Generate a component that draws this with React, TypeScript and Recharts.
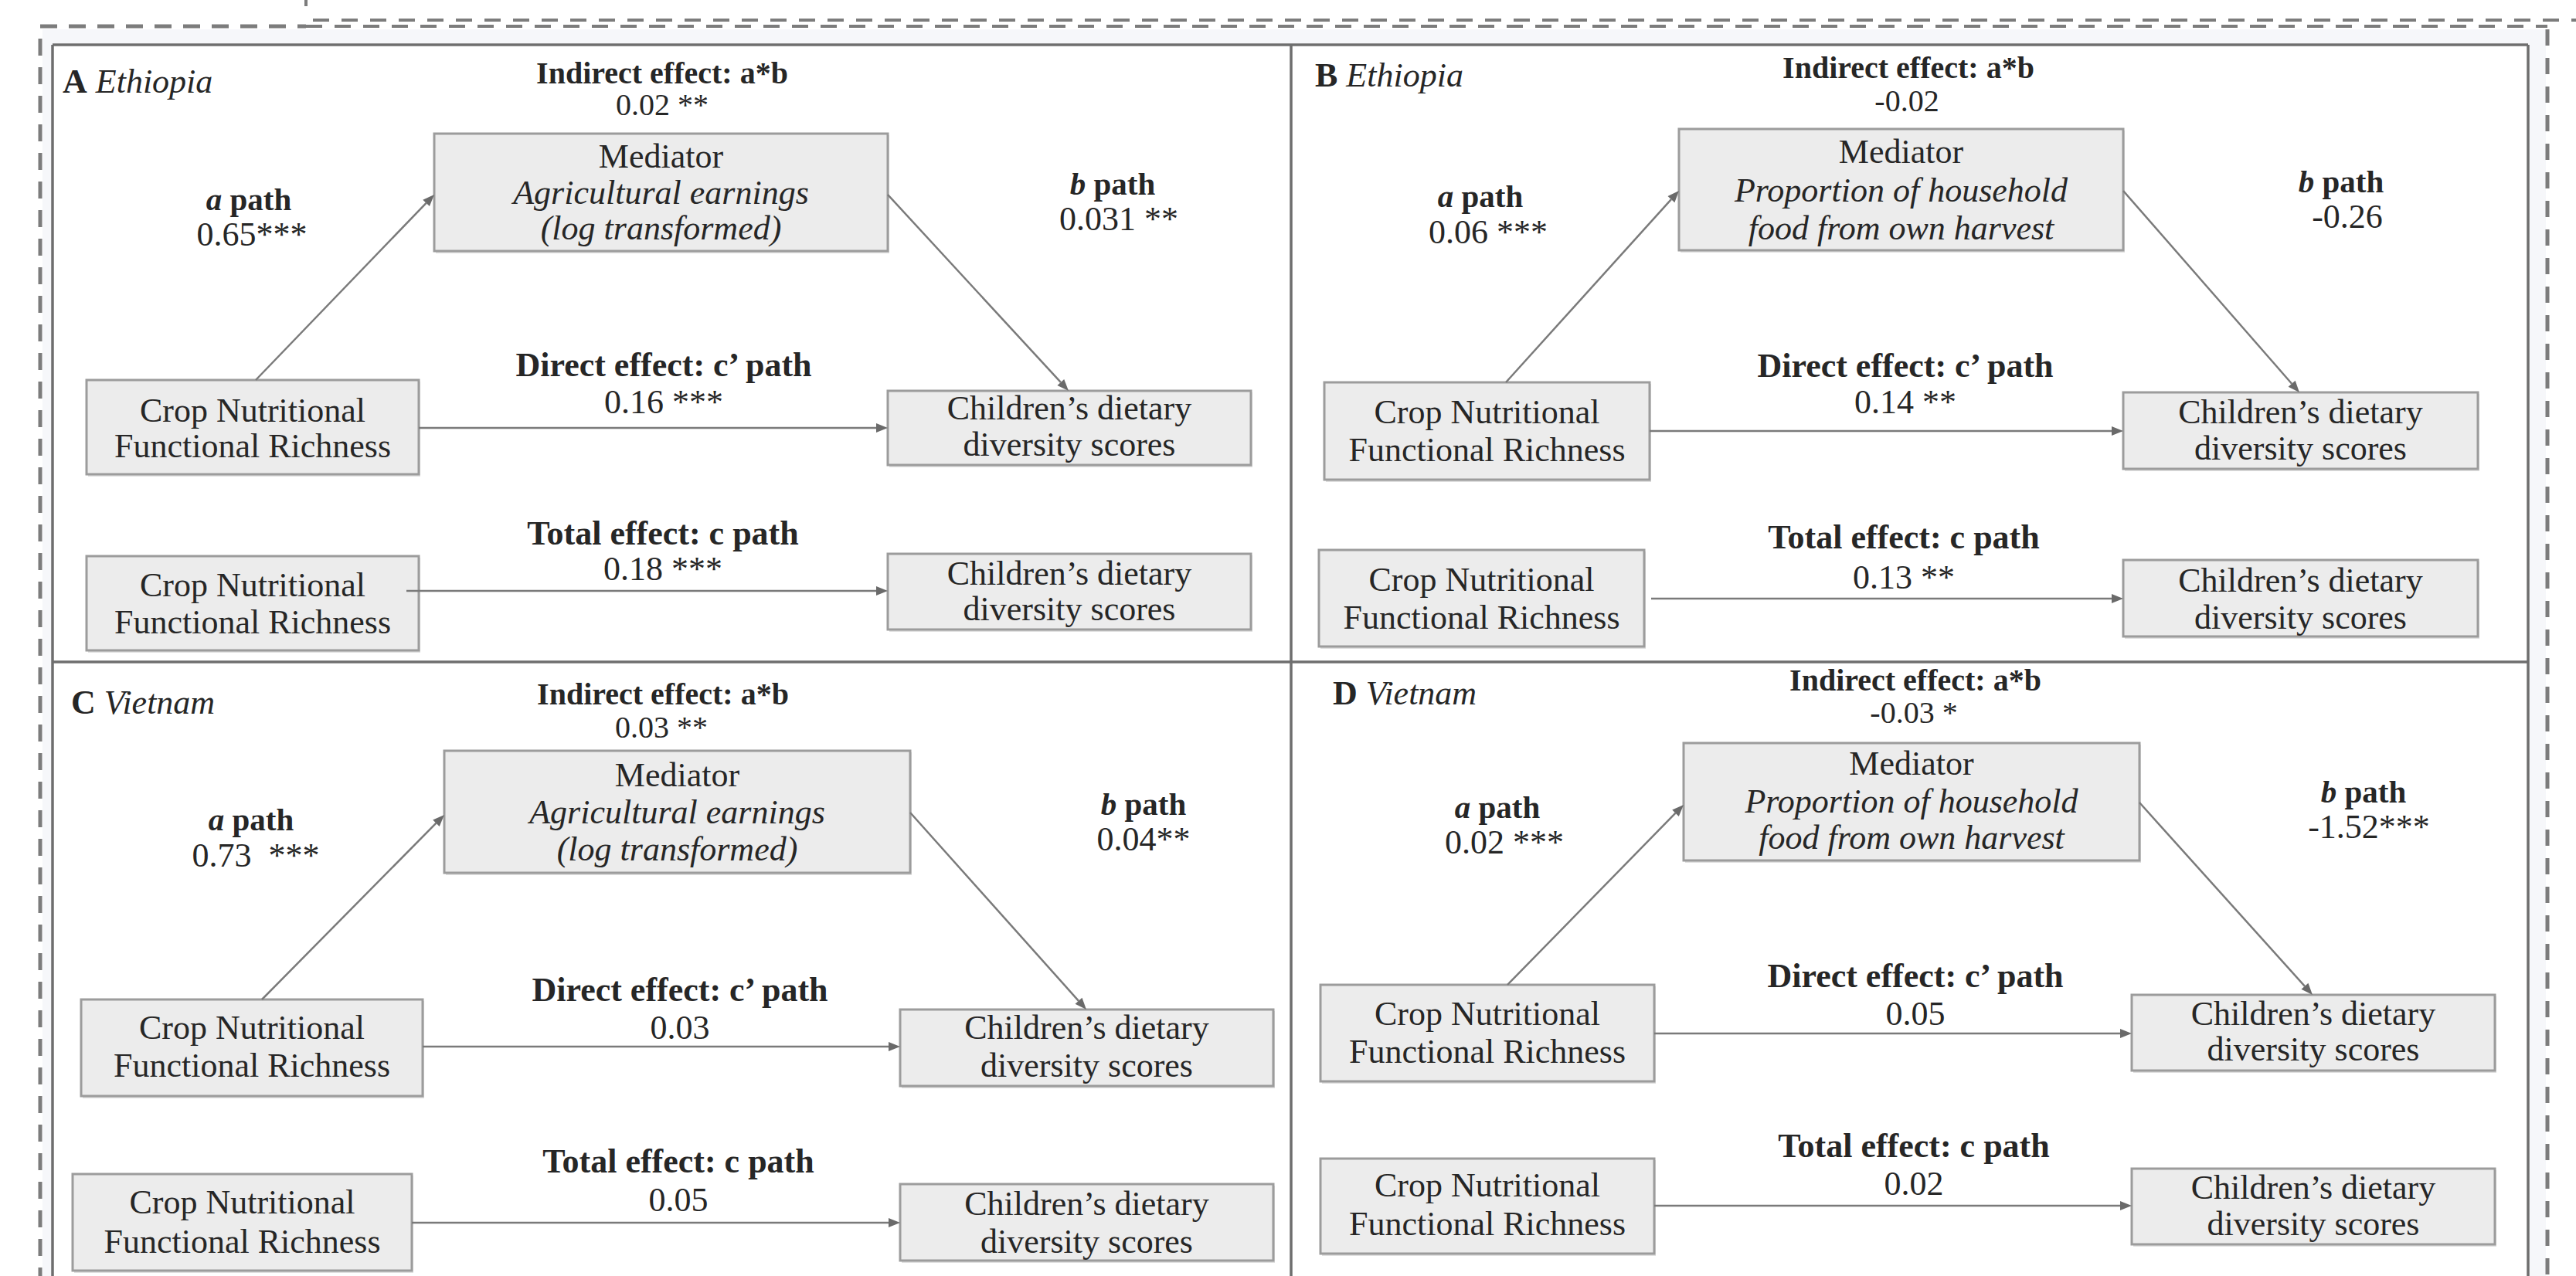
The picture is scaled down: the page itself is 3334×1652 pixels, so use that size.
import { ComposedChart, XAxis, YAxis, Scatter, ReferenceArea, ReferenceLine } from "recharts";

const W = 3334;
const H = 1652;

// ---- diagram content ----
const panelLetters = ["A", "B", "C", "D"];
const countries = ["Ethiopia", "Ethiopia", "Vietnam", "Vietnam"];
const mediatorNames = [
  ["Agricultural earnings", "(log transformed)"],
  ["Proportion of household", "food from own harvest"],
  ["Agricultural earnings", "(log transformed)"],
  ["Proportion of household", "food from own harvest"],
];
const indirectEffects = ["0.02 **", "-0.02", "0.03 **", "-0.03 *"];
const aPathValues = ["0.65***", "0.06 ***", "0.73  ***", "0.02 ***"];
const bPathValues = ["0.031 **", "-0.26", "0.04**", "-1.52***"];
const directEffects = ["0.16 ***", "0.14 **", "0.03", "0.05"];
const totalEffects = ["0.18 ***", "0.13 **", "0.05", "0.02"];
const exposureLines = ["Crop Nutritional", "Functional Richness"];
const outcomeLines = ["Children\u2019s dietary", "diversity scores"];

// ---- layout (diagram units, 1 unit = 1px) ----
type Pt = [number, number];
type Box = [number, number, number, number]; // x1, x2, y1, y2
type Seg = [number, number, number, number]; // from x,y -> to x,y

interface PanelLayout {
  title: Pt;
  ind: Pt; indV: Pt;
  med: Box; medT: number[];
  aL: Pt; aV: Pt; bL: Pt; bV: Pt;
  exp: Box; expT: number[];
  dir: Pt; dirV: Pt;
  out: Box; outT: number[];
  tot: Pt; totV: Pt;
  exp2: Box; exp2T: number[];
  out2: Box; out2T: number[];
  arrA: Seg; arrB: Seg; arrC: Seg; arrT: Seg;
}

const LAYOUT: PanelLayout[] = [
  {
    title: [81, 120], ind: [857, 108], indV: [857, 149],
    med: [562, 1149, 173, 325], medT: [217, 264, 310],
    aL: [322, 272], aV: [326, 318], bL: [1440, 252], bV: [1448, 298],
    exp: [112, 542, 492, 614], expT: [546, 592],
    dir: [859, 487], dirV: [859, 535],
    out: [1149, 1619, 506, 602], outT: [543, 590],
    tot: [858, 705], totV: [858, 751],
    exp2: [112, 542, 720, 842], exp2T: [772, 820],
    out2: [1149, 1619, 717, 815], out2T: [757, 803],
    arrA: [331, 492, 562, 252], arrB: [1149, 252, 1383, 506],
    arrC: [542, 554, 1149, 554], arrT: [526, 765, 1149, 765],
  },
  {
    title: [1702, 112], ind: [2470, 101], indV: [2468, 144],
    med: [2173, 2748, 167, 324], medT: [211, 261, 310],
    aL: [1916, 268], aV: [1926, 315], bL: [3030, 249], bV: [3038, 295],
    exp: [1714, 2135, 495, 621], expT: [548, 597],
    dir: [2466, 488], dirV: [2466, 535],
    out: [2748, 3207, 508, 607], outT: [548, 595],
    tot: [2464, 710], totV: [2464, 762],
    exp2: [1707, 2128, 712, 837], exp2T: [765, 814],
    out2: [2748, 3207, 725, 824], out2T: [766, 814],
    arrA: [1949, 495, 2173, 247], arrB: [2748, 247, 2976, 508],
    arrC: [2135, 558, 2748, 558], arrT: [2137, 775, 2748, 775],
  },
  {
    title: [92, 924], ind: [858, 912], indV: [856, 955],
    med: [575, 1178, 972, 1130], medT: [1018, 1066, 1114],
    aL: [325, 1075], aV: [331, 1122], bL: [1480, 1055], bV: [1480, 1101],
    exp: [105, 547, 1294, 1419], expT: [1345, 1394],
    dir: [880, 1296], dirV: [880, 1345],
    out: [1165, 1648, 1307, 1406], outT: [1345, 1394],
    tot: [878, 1518], totV: [878, 1568],
    exp2: [94, 533, 1520, 1645], exp2T: [1571, 1622],
    out2: [1165, 1648, 1533, 1632], out2T: [1573, 1622],
    arrA: [339, 1294, 575, 1055], arrB: [1178, 1052, 1406, 1307],
    arrC: [547, 1355, 1165, 1355], arrT: [533, 1583, 1165, 1583],
  },
  {
    title: [1725, 912], ind: [2479, 894], indV: [2477, 936],
    med: [2179, 2769, 962, 1114], medT: [1003, 1052, 1099],
    aL: [1938, 1059], aV: [1947, 1105], bL: [3059, 1039], bV: [3066, 1085],
    exp: [1709, 2141, 1275, 1400], expT: [1327, 1376],
    dir: [2479, 1278], dirV: [2479, 1327],
    out: [2759, 3229, 1288, 1386], outT: [1327, 1373],
    tot: [2477, 1498], totV: [2477, 1547],
    exp2: [1709, 2141, 1500, 1623], exp2T: [1549, 1599],
    out2: [2759, 3229, 1513, 1611], out2T: [1552, 1599],
    arrA: [1951, 1275, 2179, 1042], arrB: [2769, 1039, 2993, 1288],
    arrC: [2141, 1338, 2759, 1338], arrT: [2141, 1561, 2759, 1561],
  },
];

const FONT = "'Liberation Serif', 'Times New Roman', Times, serif";
const INK = "#262626";
const FRAME = "#6e6e6e";
const DASH = "#7c7c7c";

type Kind = "title" | "heading" | "small" | "smallHeading" | "path" | "plain" | "italic";
interface TextItem { x: number; y: number; kind: Kind; text: string; sub?: string }

const mid = (b: Box) => (b[0] + b[1]) / 2;

const textItems: TextItem[] = [];
LAYOUT.forEach((L, i) => {
  const add = (p: Pt, kind: Kind, text: string, sub?: string) =>
    textItems.push({ x: p[0], y: p[1], kind, text, sub });
  add(L.title, "title", panelLetters[i], countries[i]);
  add(L.ind, "smallHeading", "Indirect effect: a*b");
  add(L.indV, "small", indirectEffects[i]);
  add([mid(L.med), L.medT[0]], "plain", "Mediator");
  add([mid(L.med), L.medT[1]], "italic", mediatorNames[i][0]);
  add([mid(L.med), L.medT[2]], "italic", mediatorNames[i][1]);
  add(L.aL, "path", "a");
  add(L.aV, "plain", aPathValues[i]);
  add(L.bL, "path", "b");
  add(L.bV, "plain", bPathValues[i]);
  add(L.dir, "heading", "Direct effect: c\u2019 path");
  add(L.dirV, "plain", directEffects[i]);
  add(L.tot, "heading", "Total effect: c path");
  add(L.totV, "plain", totalEffects[i]);
  [[L.exp, L.expT], [L.exp2, L.exp2T]].forEach(([b, ys]) => {
    add([mid(b as Box), (ys as number[])[0]], "plain", exposureLines[0]);
    add([mid(b as Box), (ys as number[])[1]], "plain", exposureLines[1]);
  });
  [[L.out, L.outT], [L.out2, L.out2T]].forEach(([b, ys]) => {
    add([mid(b as Box), (ys as number[])[0]], "plain", outcomeLines[0]);
    add([mid(b as Box), (ys as number[])[1]], "plain", outcomeLines[1]);
  });
});

const boxes: Box[] = LAYOUT.flatMap((L) => [L.med, L.exp, L.out, L.exp2, L.out2]);
const arrows: Seg[] = LAYOUT.flatMap((L) => [L.arrA, L.arrB, L.arrC, L.arrT]);

const TextMark = (props: any) => {
  const { cx, cy } = props;
  const p: TextItem = props.payload ?? props;
  const base = {
    x: cx,
    y: cy,
    fill: INK,
    fontFamily: FONT,
    style: { whiteSpace: "pre" as const },
  };
  if (p.kind === "title") {
    return (
      <text {...base} fontSize={44} textAnchor="start">
        <tspan fontWeight="bold">{p.text}</tspan>
        <tspan fontStyle="italic">{" " + p.sub}</tspan>
      </text>
    );
  }
  if (p.kind === "path") {
    return (
      <text {...base} fontSize={41} textAnchor="middle" fontWeight="bold">
        <tspan fontStyle="italic">{p.text}</tspan>
        <tspan>{" path"}</tspan>
      </text>
    );
  }
  const size = p.kind === "small" || p.kind === "smallHeading" ? 40 : 44;
  return (
    <text
      {...base}
      fontSize={size}
      textAnchor="middle"
      fontWeight={p.kind === "heading" || p.kind === "smallHeading" ? "bold" : "normal"}
      fontStyle={p.kind === "italic" ? "italic" : "normal"}
    >
      {p.text}
    </text>
  );
};

const ArrowShape = (props: any) => {
  const { x1, y1, x2, y2 } = props;
  const ang = Math.atan2(y2 - y1, x2 - x1);
  const len = 15;
  const half = 6;
  const bx = x2 - len * Math.cos(ang);
  const by = y2 - len * Math.sin(ang);
  const nx = -Math.sin(ang) * half;
  const ny = Math.cos(ang) * half;
  return (
    <g>
      <line x1={x1} y1={y1} x2={bx} y2={by} stroke="#7a7a7a" strokeWidth={2.5} />
      <polygon points={`${x2},${y2} ${bx + nx},${by + ny} ${bx - nx},${by - ny}`} fill="#6a6a6a" />
    </g>
  );
};

export default function App() {
  return (
    <div style={{ position: "absolute", left: 0, top: 0, width: W, height: H, background: "#fff" }}>
      <ComposedChart width={W} height={H} margin={{ top: 0, right: 0, bottom: 0, left: 0 }} data={textItems}>
        <XAxis type="number" dataKey="x" domain={[0, W]} hide allowDataOverflow />
        <YAxis type="number" dataKey="y" domain={[0, H]} reversed hide allowDataOverflow />

        {/* faint page band behind the frame */}
        <ReferenceArea x1={55} x2={3295} y1={38} y2={H} fill="#f6f7fa" fillOpacity={1} stroke="none" ifOverflow="visible" />
        <ReferenceArea x1={68} x2={3272} y1={58} y2={H} fill="#ffffff" fillOpacity={1} stroke="none" ifOverflow="visible" />

        {/* node boxes */}
        {boxes.map((b, i) => (
          <ReferenceArea
            key={"sh" + i}
            x1={b[0] + 2}
            x2={b[1] + 2}
            y1={b[2] + 2}
            y2={b[3] + 3}
            fill="#c9c9c9"
            fillOpacity={0.6}
            stroke="none"
            ifOverflow="visible"
          />
        ))}
        {boxes.map((b, i) => (
          <ReferenceArea
            key={"bx" + i}
            x1={b[0]}
            x2={b[1]}
            y1={b[2]}
            y2={b[3]}
            fill="#ececec"
            fillOpacity={1}
            stroke="#9c9c9c"
            strokeWidth={3}
            ifOverflow="visible"
          />
        ))}

        {/* panel frame */}
        <ReferenceLine segment={[{ x: 68, y: 58 }, { x: 3272, y: 58 }]} stroke={FRAME} strokeWidth={3.5} ifOverflow="visible" />
        <ReferenceLine segment={[{ x: 68, y: 58 }, { x: 68, y: H }]} stroke={FRAME} strokeWidth={3.5} ifOverflow="visible" />
        <ReferenceLine segment={[{ x: 3272, y: 58 }, { x: 3272, y: H }]} stroke={FRAME} strokeWidth={3.5} ifOverflow="visible" />
        <ReferenceLine segment={[{ x: 1671, y: 58 }, { x: 1671, y: H }]} stroke={FRAME} strokeWidth={3.5} ifOverflow="visible" />
        <ReferenceLine segment={[{ x: 68, y: 857 }, { x: 3272, y: 857 }]} stroke={FRAME} strokeWidth={3.5} ifOverflow="visible" />

        {/* dashed outer border */}
        <ReferenceLine segment={[{ x: 52, y: 34 }, { x: 396, y: 34 }]} stroke={DASH} strokeWidth={5} strokeDasharray="22 15" ifOverflow="visible" />
        <ReferenceLine segment={[{ x: 52, y: 50 }, { x: 52, y: H }]} stroke={DASH} strokeWidth={5} strokeDasharray="22 15" ifOverflow="visible" />
        <ReferenceLine segment={[{ x: 396, y: 0 }, { x: 396, y: 8 }]} stroke={DASH} strokeWidth={4} ifOverflow="visible" />
        <ReferenceLine segment={[{ x: 396, y: 34 }, { x: 3297, y: 34 }]} stroke={DASH} strokeWidth={4} strokeDasharray="21 16" ifOverflow="visible" />
        <ReferenceLine segment={[{ x: 405, y: 26 }, { x: 3334, y: 26 }]} stroke={DASH} strokeWidth={4} strokeDasharray="21 16" ifOverflow="visible" />
        <ReferenceLine segment={[{ x: 3297, y: 38 }, { x: 3297, y: H }]} stroke={DASH} strokeWidth={5} strokeDasharray="21 16" ifOverflow="visible" />

        {/* path arrows */}
        {arrows.map((s, i) => (
          <ReferenceLine
            key={"ar" + i}
            segment={[{ x: s[0], y: s[1] }, { x: s[2], y: s[3] }]}
            stroke="#7a7a7a"
            shape={ArrowShape}
            ifOverflow="visible"
          />
        ))}

        <Scatter data={textItems} dataKey="y" shape={TextMark} isAnimationActive={false} />
      </ComposedChart>
    </div>
  );
}
